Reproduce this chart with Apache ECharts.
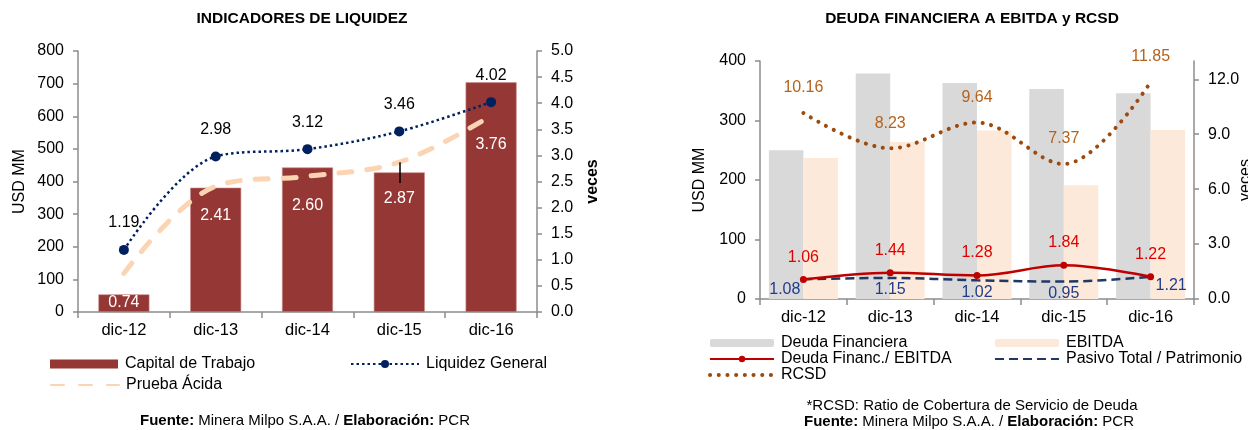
<!DOCTYPE html>
<html>
<head>
<meta charset="utf-8">
<script src="https://cdn.jsdelivr.net/npm/echarts@6/dist/echarts.min.js"></script>
<style>
html,body{margin:0;padding:0;background:#fff;}
#c{width:1248px;height:430px;}
</style>
</head>
<body>
<div id="c"></div>
<script>
// ---- data ----
const categories = ['dic-12', 'dic-13', 'dic-14', 'dic-15', 'dic-16'];
// Left chart: Indicadores de liquidez
const capitalTrabajo = [54, 381, 443, 428, 704];        // USD MM
const liquidezGeneral = [1.19, 2.98, 3.12, 3.46, 4.02]; // veces
const pruebaAcida = [0.74, 2.41, 2.60, 2.87, 3.76];     // veces
// Right chart: Deuda financiera a EBITDA y RCSD
const deudaFinanciera = [250, 379, 363, 353, 346];      // USD MM
const ebitda = [237, 264, 283, 191, 284];               // USD MM
const deudaEbitda = [1.06, 1.44, 1.28, 1.84, 1.22];     // veces
const pasivoPatrimonio = [1.08, 1.15, 1.02, 0.95, 1.21];// veces
const rcsd = [10.16, 8.23, 9.64, 7.37, 11.85];          // veces
// leader line of the 2.87 label (dic-15), in "veces"
const leaderLineEnd = 2.47;

const FONT = 'Liberation Sans, Arial, sans-serif';
const FS = 16;
const AX = '#8c8c8c';
const HIDDEN = 'rgba(0,0,0,0)';
const chart = echarts.init(document.getElementById('c'), null, {renderer: 'canvas'});

function yAxisBase(extra) {
  return Object.assign({
    type: 'value',
    splitLine: {show: false},
    axisLine: {show: true, lineStyle: {color: AX, width: 1.5}},
    axisTick: {show: true, length: 5, lineStyle: {color: AX, width: 1.5}},
    axisLabel: {color: '#000', fontFamily: FONT, fontSize: FS, margin: 14},
    nameTextStyle: {color: '#000', fontFamily: FONT, fontSize: FS},
    nameLocation: 'middle',
    nameRotate: 90,
    nameMoveOverlap: false
  }, extra);
}
function xAxisBase(gridIndex, margin) {
  return {
    type: 'category', gridIndex: gridIndex, data: categories,
    axisLine: {lineStyle: {color: AX, width: 1.5}},
    axisTick: {show: true, length: 6, lineStyle: {color: AX, width: 1.5}},
    axisLabel: {color: '#000', fontFamily: FONT, fontSize: 16.5, margin: margin}
  };
}
const lbl = (color, pos, dist) => ({
  show: true, position: pos, distance: dist, color: color,
  fontFamily: FONT, fontSize: FS, formatter: p => Number(p.value).toFixed(2)
});

// per-item label tweaks (style only)
const pruebaData = pruebaAcida.map((v, i) => i === 3 ? {value: v, label: {offset: [0, 7]}} : v);
const pasivoData = pasivoPatrimonio.map((v, i) => {
  if (i === 0) return {value: v, label: {position: 'left', distance: 2, offset: [0, 10]}};
  if (i === categories.length - 1) return {value: v, label: {position: 'right', distance: 4, offset: [0, 9]}};
  return v;
});

const legendText = {color: '#000', fontFamily: FONT, fontSize: FS, lineHeight: 16, padding: [0, 0, 0, 2]};
const rcsdLine = {color: '#9C4A0E', width: 4, type: [0.1, 8.6], cap: 'round'};

const option = {
  animation: false,
  backgroundColor: '#fff',
  grid: [
    {left: 78, right: 711, top: 51, bottom: 118, outerBoundsMode: 'none', containLabel: false},
    {left: 760, right: 54, top: 61, bottom: 131, outerBoundsMode: 'none', containLabel: false}
  ],
  xAxis: [xAxisBase(0, 10), xAxisBase(1, 10)],
  yAxis: [
    yAxisBase({gridIndex: 0, min: 0, max: 800, interval: 100, name: 'USD MM', nameGap: 50}),
    yAxisBase({gridIndex: 0, min: 0, max: 5, interval: 0.5, position: 'right', name: 'veces', nameGap: 48,
      nameTextStyle: {color: '#000', fontFamily: FONT, fontSize: FS, fontWeight: 'bold'},
      axisLabel: {color: '#000', fontFamily: FONT, fontSize: FS, margin: 14, formatter: v => v.toFixed(1)}}),
    yAxisBase({gridIndex: 1, min: 0, max: 400, interval: 100, name: 'USD MM', nameGap: 52}),
    yAxisBase({gridIndex: 1, min: 0, max: 13, interval: 3, position: 'right', name: 'veces', nameGap: 44,
      axisLabel: {color: '#000', fontFamily: FONT, fontSize: FS, margin: 14, showMaxLabel: false, formatter: v => v.toFixed(1)}})
  ],
  legend: [
    {data: ['Capital de Trabajo'], left: 45, top: 351, itemWidth: 68, itemHeight: 9, icon: 'rect',
      itemStyle: {borderWidth: 0}, textStyle: legendText},
    {data: ['Liquidez General'], left: 345, top: 351, itemWidth: 68, itemHeight: 10, textStyle: legendText},
    {data: ['Prueba Ácida'], left: 45, top: 372, itemWidth: 68, itemHeight: 10, textStyle: legendText},
    {data: ['Deuda Financiera', 'Deuda Financ./ EBITDA', {name: 'RCSD', lineStyle: rcsdLine}], orient: 'vertical', left: 703, top: 330,
      itemGap: 0, itemWidth: 64, itemHeight: 8, textStyle: legendText},
    {data: ['EBITDA', 'Pasivo Total / Patrimonio'], orient: 'vertical', left: 989, top: 330,
      itemGap: 0, itemWidth: 64, itemHeight: 8, textStyle: legendText}
  ],
  series: [
    // ---- left chart ----
    {
      name: 'Capital de Trabajo', type: 'bar', xAxisIndex: 0, yAxisIndex: 0,
      data: capitalTrabajo, barWidth: 51,
      itemStyle: {color: '#953735', borderColor: '#c98a88', borderWidth: 0.6}
    },
    {
      name: 'Prueba Ácida', type: 'line', xAxisIndex: 0, yAxisIndex: 1,
      data: pruebaData, smooth: 0.35, symbol: 'circle', symbolSize: 2,
      lineStyle: {color: '#FBD4B4', width: 5, type: [13, 15], cap: 'round'},
      itemStyle: {color: HIDDEN},
      label: lbl('#fff', 'bottom', 20),
      markLine: {
        silent: true, symbol: 'none', label: {show: false},
        lineStyle: {color: '#000', width: 1.5, type: 'solid'},
        data: [[{coord: [categories[3], pruebaAcida[3]]}, {coord: [categories[3], leaderLineEnd]}]]
      }
    },
    {
      name: 'Liquidez General', type: 'line', xAxisIndex: 0, yAxisIndex: 1,
      data: liquidezGeneral, smooth: 0.35, symbol: 'circle', symbolSize: 10,
      lineStyle: {color: '#002060', width: 2.5, type: [2.5, 3]},
      itemStyle: {color: '#002060'},
      label: lbl('#000', 'top', 14),
      z: 5
    },
    // ---- right chart ----
    {
      name: 'Deuda Financiera', type: 'bar', xAxisIndex: 1, yAxisIndex: 2,
      data: deudaFinanciera, barWidth: 34.5, barGap: '0%',
      itemStyle: {color: '#D9D9D9'}
    },
    {
      name: 'EBITDA', type: 'bar', xAxisIndex: 1, yAxisIndex: 2,
      data: ebitda, barWidth: 34.5, barGap: '0%',
      itemStyle: {color: '#FDE9D9'}
    },
    {
      name: 'Deuda Financ./ EBITDA', type: 'line', xAxisIndex: 1, yAxisIndex: 3,
      data: deudaEbitda, smooth: 0.35, symbol: 'circle', symbolSize: 7,
      lineStyle: {color: '#C00000', width: 2.5},
      itemStyle: {color: '#C00000'},
      label: lbl('#E00000', 'top', 11),
      z: 4
    },
    {
      name: 'Pasivo Total / Patrimonio', type: 'line', xAxisIndex: 1, yAxisIndex: 3,
      data: pasivoData, smooth: 0.35, symbol: 'circle', symbolSize: 2,
      lineStyle: {color: '#1F3864', width: 2.5, type: [9, 5]},
      itemStyle: {color: HIDDEN},
      label: lbl('#1F3C88', 'bottom', 3),
      z: 3
    },
    {
      name: 'RCSD', type: 'line', xAxisIndex: 1, yAxisIndex: 3,
      data: rcsd, smooth: 0.35, symbol: 'circle', symbolSize: 2,
      lineStyle: rcsdLine,
      itemStyle: {color: HIDDEN},
      label: lbl('#B5621C', 'top', 16),
      z: 4
    }
  ],
  graphic: [
    {type: 'text', style: {x: 302, y: 19, text: 'INDICADORES DE LIQUIDEZ', align: 'center', verticalAlign: 'middle',
      font: 'bold 15.5px ' + FONT, fill: '#000'}},
    {type: 'text', style: {x: 972, y: 19, text: 'DEUDA FINANCIERA A EBITDA y RCSD', align: 'center', verticalAlign: 'middle',
      font: 'bold 15.5px ' + FONT, fill: '#000'}},
    {type: 'text', style: {x: 305, y: 421, text: '{b|Fuente:} Minera Milpo S.A.A. / {b|Elaboración:} PCR', align: 'center', verticalAlign: 'middle',
      fontFamily: FONT, fontSize: 15, fill: '#000', rich: {b: {fontWeight: 'bold', fontFamily: FONT, fontSize: 15}}}},
    {type: 'text', style: {x: 972, y: 406, text: '*RCSD: Ratio de Cobertura de Servicio de Deuda', align: 'center', verticalAlign: 'middle',
      fontFamily: FONT, fontSize: 15, fill: '#000'}},
    {type: 'text', style: {x: 969, y: 422, text: '{b|Fuente:} Minera Milpo S.A.A. / {b|Elaboración:} PCR', align: 'center', verticalAlign: 'middle',
      fontFamily: FONT, fontSize: 15, fill: '#000', rich: {b: {fontWeight: 'bold', fontFamily: FONT, fontSize: 15}}}}
  ]
};
chart.setOption(option);
</script>
</body>
</html>
